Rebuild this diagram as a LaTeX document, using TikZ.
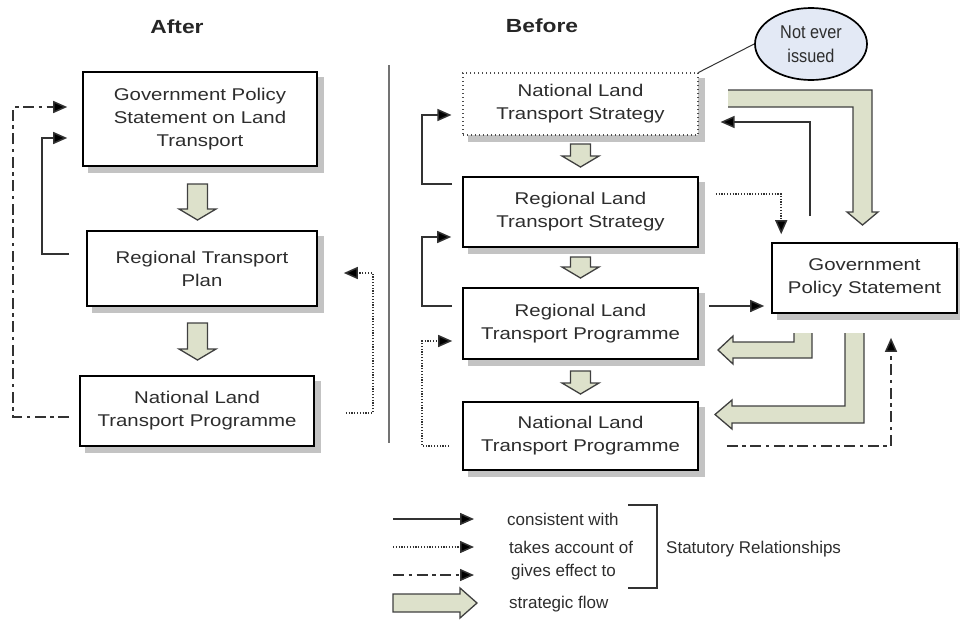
\documentclass[tikz,border=0pt]{standalone}
\usepackage{fontspec}
\setmainfont[FakeStretch=1.2]{Liberation Sans}
\newfontfamily\legendfont{Liberation Sans}
\newfontfamily\notefont[FakeStretch=0.88]{Liberation Sans}
\usetikzlibrary{arrows.meta,shapes.geometric,backgrounds,calc}
\definecolor{flowgreen}{RGB}{221,225,203}
\definecolor{notefill}{RGB}{227,233,245}
\definecolor{txt}{RGB}{45,45,45}
\definecolor{linec}{RGB}{50,50,50}
\definecolor{shadowc}{RGB}{195,195,195}
\tikzset{
  box/.style={draw=black, line width=1.6pt, fill=white, align=center, inner sep=0pt,
    text=txt, font=\fontsize{17}{23}\selectfont},
  dottedbox/.style={box, draw=black!70, line width=1.1pt, dash pattern=on 1.1pt off 2.9pt},
  shadowfill/.style={fill=shadowc},
  titletext/.style={font=\bfseries\fontsize{19}{23}\selectfont, text=black!85},
  legtext/.style={font=\legendfont\fontsize{17}{20}\selectfont, text=txt, inner sep=0pt},
  conn/.style={draw=linec, line width=1.5pt, -{Triangle[length=14pt,width=12pt,fill=black]}},
  consistent/.style={conn},
  takes/.style={conn, dash pattern=on 1.2pt off 1.6pt},
  gives/.style={conn, dash pattern=on 11pt off 4.5pt on 3.5pt off 4.5pt},
  flowline/.style={draw=black!75, line width=1.3pt, line join=miter, fill=flowgreen},
  pics/downflow/.style={code={
    \draw[flowline] (-10,-#1) -- (10,-#1) -- (10,#1-11) -- (18.5,#1-11) -- (0,#1)
      -- (-18.5,#1-11) -- (-10,#1-11) -- cycle;}}
}
\newcommand{\boxshadow}[1]{\fill[shadowfill] ([shift={(6,6)}]#1.north west) rectangle ([shift={(6,6)}]#1.south east);}
\begin{document}
\begin{tikzpicture}[x=1pt,y=-1pt]
\useasboundingbox (0,0) rectangle (960,619);

% titles
\node[titletext] (after) at (177,27) {After};
\node[titletext] (before) at (542,26) {Before};

% divider
\draw[line width=1.5pt, black!55] (389,65) -- (389,443);

% ---------- After column ----------
\node[box, minimum width=234, minimum height=94] (gpsA) at (200,119) {Government Policy\\Statement on Land\\Transport};
\node[box, minimum width=230, minimum height=75] (rtp) at (202,268.5) {Regional Transport\\Plan};
\node[box, minimum width=234, minimum height=70] (nltpA) at (197,411) {National Land\\Transport Programme};

\pic at (197.5,202) {downflow=18};
\pic at (197.5,341.5) {downflow=18.5};

\draw[gives] ([shift={(-10,6)}]nltpA.west) -- ++(-56,0) |- ([shift={(-15,-12)}]gpsA.west);
\draw[consistent] ([shift={(-17,-14.5)}]rtp.west) -- ++(-27,0) |- ([shift={(-15,19)}]gpsA.west);
\draw[takes] ([shift={(31,2)}]nltpA.east) -- ++(27,0) |- ([shift={(26,4.5)}]rtp.east);

% ---------- Before column ----------
\node[dottedbox, minimum width=235, minimum height=62] (nlts) at (580.5,104) {National Land\\Transport Strategy};
\node[box, minimum width=235, minimum height=70] (rlts) at (580.5,212) {Regional Land\\Transport Strategy};
\node[box, minimum width=235, minimum height=71] (rltp) at (580.5,323.5) {Regional Land\\Transport Programme};
\node[box, minimum width=235, minimum height=68] (nltpB) at (580.5,436) {National Land\\Transport Programme};
\node[box, minimum width=185, minimum height=70] (gpsB) at (864.5,278) {Government\\Policy Statement};

\begin{scope}[on background layer]
  \boxshadow{gpsA}\boxshadow{rtp}\boxshadow{nltpA}
  \boxshadow{nlts}\boxshadow{rlts}\boxshadow{rltp}\boxshadow{nltpB}\boxshadow{gpsB}
\end{scope}

\node[ellipse, draw=black, line width=1.7pt, fill=notefill, minimum width=112, minimum height=72,
  inner sep=0pt, align=center, text=txt, font=\notefont\fontsize{18.5}{24}\selectfont] (note) at (811,44) {Not ever\\issued};
\draw[line width=1pt, black!80] (note.west) -- (nlts.north east);

\pic at (580.5,155.5) {downflow=11.5};
\pic at (580.5,267.5) {downflow=10.5};
\pic at (580.5,382.5) {downflow=11.5};

% strategic flow L-arrows from GPS
\draw[flowline] (728,90) -- (872,90) -- (872,212) -- (878,212) -- (862.5,225) -- (847,212)
  -- (853,212) -- (853,107) -- (728,107);
\draw[flowline] (794,333) -- (794,342) -- (733,342) -- (733,336) -- (718,350) -- (733,364)
  -- (733,358) -- (812,358) -- (812,333);
\draw[flowline] (845,333) -- (845,406) -- (732,406) -- (732,400) -- (715,414.5) -- (732,429)
  -- (732,423) -- (864,423) -- (864,333);

% statutory relationships
\draw[consistent] ([shift={(-10,-28)}]rlts.west) -- ++(-30,0) |- ([shift={(-11,11)}]nlts.west);
\draw[consistent] ([shift={(-10,-17.5)}]rltp.west) -- ++(-30,0) |- ([shift={(-11,25)}]rlts.west);
\draw[takes] ([shift={(-13,10)}]nltpB.west) -- ++(-27,0) |- ([shift={(-10,17.5)}]rltp.west);
\draw[takes] ([shift={(17,-18)}]rlts.east) -| ([shift={(10,-8)}]gpsB.north west);
\draw[consistent] ([shift={(10,-17.5)}]rltp.east) -- ([shift={(-7,28)}]gpsB.west);
\draw[consistent] ([shift={(-54.5,-26)}]gpsB.north) |- ([shift={(22,18)}]nlts.east);
\draw[gives] ([shift={(28,10)}]nltpB.east) -| ([shift={(26.5,24)}]gpsB.south);

% ---------- legend ----------
\coordinate (la1) at (393,519); \coordinate (lb1) at (474,519);
\coordinate (la2) at (393,547); \coordinate (lb2) at (474,547);
\coordinate (la3) at (393,575); \coordinate (lb3) at (474,575);
\draw[consistent] (la1) -- (lb1);
\draw[takes] (la2) -- (lb2);
\draw[gives] (la3) -- (lb3);
\draw[flowline] (393,594) -- (460,594) -- (460,588) -- (477,603) -- (460,618) -- (460,612) -- (393,612) -- cycle;
\node[legtext, anchor=west] (t1) at (507,519) {consistent with};
\node[legtext, anchor=west] (t2) at (509,547) {takes account of};
\node[legtext, anchor=west] (t3) at (511,572) {gives effect to};
\node[legtext, anchor=west] (t4) at (509,604) {strategic flow};
\draw[line width=1.4pt, linec] (628,505) -- (657,505) -- (657,588) -- (628,588);
\node[legtext, anchor=west] (stat) at (666,549) {Statutory Relationships};
\end{tikzpicture}
\end{document}
